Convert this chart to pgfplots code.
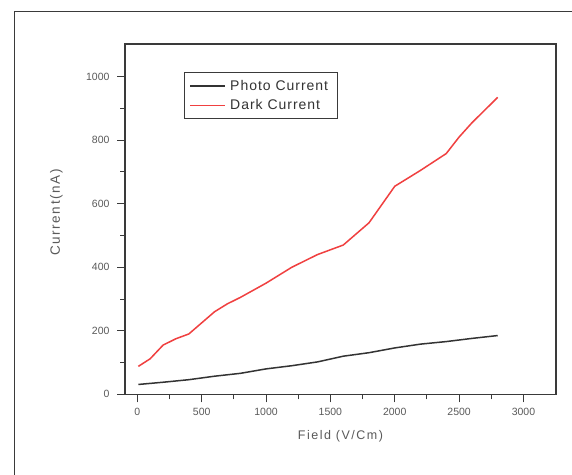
\documentclass[border=0pt]{standalone}
\usepackage{fontspec}
\setmainfont{Liberation Sans}
\newfontfamily\spaced[LetterSpace=12]{Liberation Sans}
\newfontfamily\lspaced[LetterSpace=7]{Liberation Sans}
\usepackage{pgfplots}
\pgfplotsset{compat=1.18}
\definecolor{axgray}{HTML}{3A3A3A}
\definecolor{lblgray}{HTML}{5A5A5A}
\definecolor{curred}{HTML}{F04040}
\definecolor{curblack}{HTML}{333333}
\begin{document}
\begin{tikzpicture}
\useasboundingbox (0,0) rectangle (572pt,474pt);
\fill[white] (0,0) rectangle (572pt,474pt);
\draw[axgray, line width=1.2pt] (14.6pt,-5pt) -- (14.6pt,462.3pt) -- (580pt,462.3pt);
\begin{axis}[
  at={(125pt,79.7pt)}, anchor=south west,
  scale only axis, width=431pt, height=350.3pt,
  xmin=-96, xmax=3253, ymin=0, ymax=1103,
  xtick={0,500,...,3000}, ytick={0,200,...,1000},
  minor x tick num=1, minor y tick num=1,
  tick pos=left, tick align=outside,
  major tick length=8pt, minor tick length=5pt,
  axis line style={axgray, line width=1.3pt},
  every tick/.style={axgray, line width=1pt},
  tick label style={font=\fontsize{10.5}{12}\selectfont, text=lblgray},
  /pgf/number format/assume math mode=true,
  /pgf/number format/1000 sep={},
  xticklabel style={yshift=-2pt},
  yticklabel style={xshift=-4pt},
  xlabel={Field (V/Cm)},
  ylabel={Current(nA)},
  xlabel style={font=\spaced\fontsize{12.5}{14}\selectfont, text=lblgray, at={(axis description cs:0.5,0)}, anchor=center, yshift=-42pt},
  ylabel style={font=\spaced\fontsize{13.5}{15}\selectfont, text=lblgray, at={(axis description cs:-0.159,0.519)}, anchor=center},
  legend style={at={(rel axis cs:0.137,0.92)}, anchor=north west, draw=axgray, line width=1.1pt,
    font=\lspaced\fontsize{14}{16}\selectfont, text=curblack, row sep=4pt, inner xsep=5pt, inner ysep=5.5pt,
    nodes={inner xsep=4pt}},
  legend cell align=left,
  legend image code/.code={\draw[#1, line width=1.6pt] (0pt,0pt) -- (35pt,0pt);},
]
\addplot[curblack, line width=1.5pt] coordinates {
(8,31) (200,38) (400,46) (600,57) (800,66) (1000,80) (1200,90) (1400,102)
(1600,120) (1800,131) (2000,146) (2200,158) (2400,166) (2600,176) (2800,185)
};
\addlegendentry{Photo Current}
\addplot[curred, line width=1.5pt] coordinates {
(8,88) (100,112) (200,155) (300,175) (400,190) (500,225) (600,260) (700,285)
(800,305) (1000,350) (1200,400) (1400,440) (1600,470) (1800,540) (2000,655)
(2200,705) (2400,758) (2500,810) (2600,855) (2800,935)
};
\addlegendentry{Dark Current}
\end{axis}
\end{tikzpicture}
\end{document}
